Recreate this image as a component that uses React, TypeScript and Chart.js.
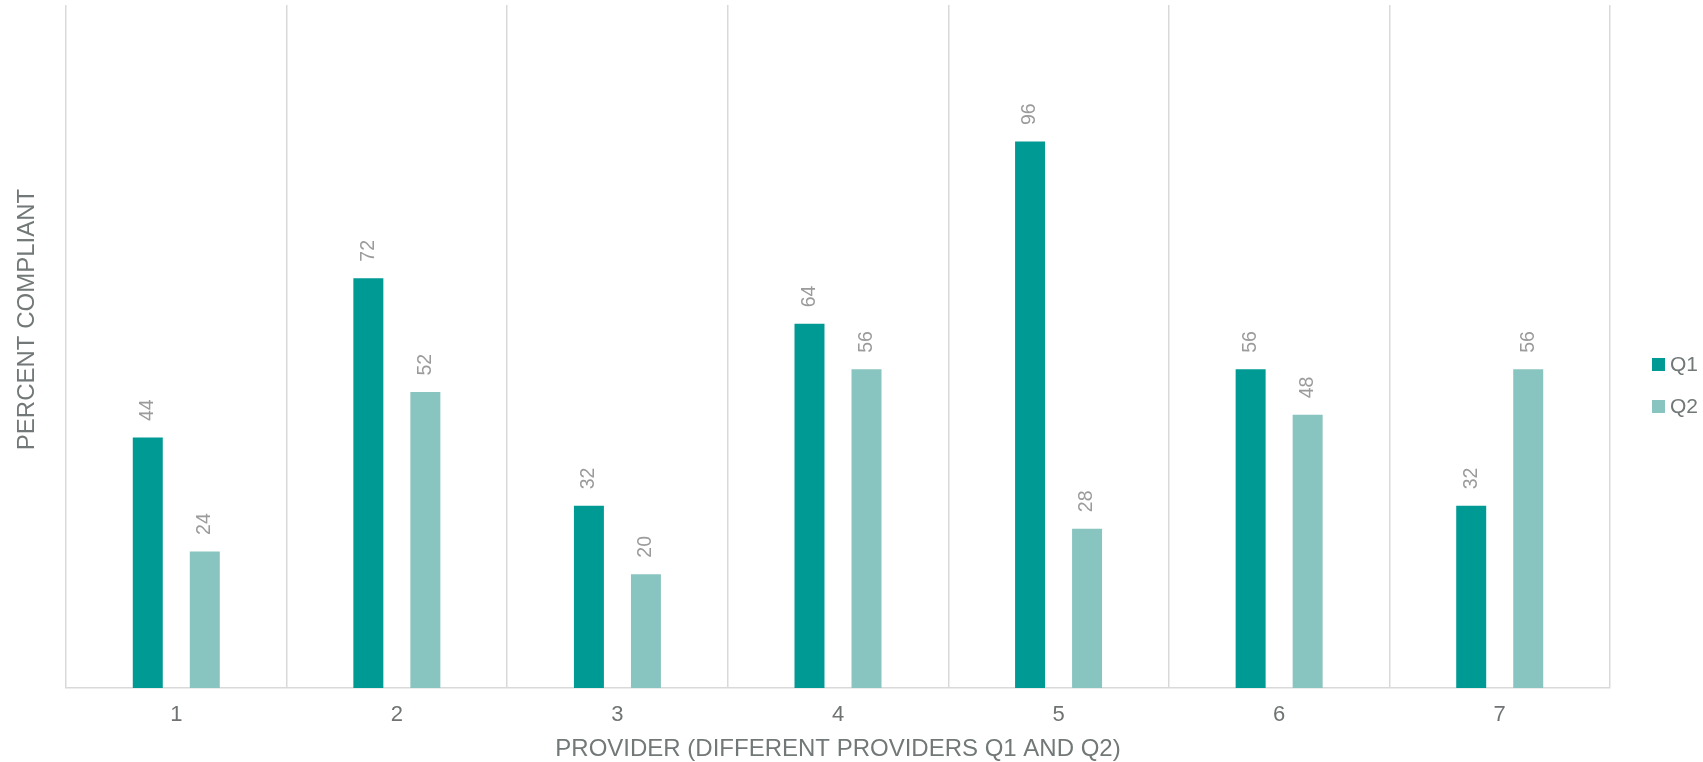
import React, { useEffect, useRef } from "react";
import { Chart, registerables } from "chart.js";

Chart.register(...registerables);

const categories = ["1", "2", "3", "4", "5", "6", "7"];
const seriesNames = ["Q1", "Q2"];
const q1Values = [44, 72, 32, 64, 96, 56, 32];
const q2Values = [24, 52, 20, 56, 28, 48, 56];
const seriesColors = ["#009A94", "#88C4C0"];
const yMax = 120;
const xTitle = "PROVIDER (DIFFERENT PROVIDERS Q1 AND Q2)";
const yTitle = "PERCENT COMPLIANT";

const FONT = "'Liberation Sans', Arial, sans-serif";

const valueLabelPlugin = {
  id: "valueLabels",
  afterDatasetsDraw(chart: any) {
    const ctx = chart.ctx;
    ctx.save();
    ctx.font = `19.5px ${FONT}`;
    ctx.fillStyle = "#9b9b9b";
    ctx.textAlign = "left";
    ctx.textBaseline = "middle";
    chart.data.datasets.forEach((ds: any, di: number) => {
      const meta = chart.getDatasetMeta(di);
      meta.data.forEach((el: any, i: number) => {
        const v = ds.data[i];
        ctx.save();
        ctx.translate(el.x, el.y - 16.5);
        ctx.rotate(-Math.PI / 2);
        ctx.fillText(String(v), 0, 0);
        ctx.restore();
      });
    });
    ctx.restore();
  },
};

const yTitlePlugin = {
  id: "yTitle",
  afterDraw(chart: any) {
    const ctx = chart.ctx;
    const area = chart.chartArea;
    const cy = (area.top + area.bottom) / 2 - 27;
    ctx.save();
    ctx.font = `24px ${FONT}`;
    ctx.fillStyle = "#727878";
    ctx.textAlign = "center";
    ctx.textBaseline = "middle";
    ctx.translate(27, cy);
    ctx.rotate(-Math.PI / 2);
    ctx.fillText(yTitle, 0, 0);
    ctx.restore();
  },
};

const customLegendPlugin = {
  id: "customLegend",
  afterDraw(chart: any) {
    const ctx = chart.ctx;
    const area = chart.chartArea;
    const x = area.right + 42;
    const spacing = 42;
    const n = chart.data.datasets.length;
    const cy = chart.height / 2 + 4.5;
    ctx.save();
    ctx.font = `21px ${FONT}`;
    ctx.textAlign = "left";
    ctx.textBaseline = "middle";
    chart.data.datasets.forEach((ds: any, i: number) => {
      const y = cy + (i - (n - 1) / 2) * spacing;
      ctx.fillStyle = ds.backgroundColor;
      ctx.fillRect(x, y - 6.5, 13, 13);
      ctx.fillStyle = "#727878";
      ctx.fillText(ds.label, x + 18, y + 1);
    });
    ctx.restore();
  },
};

export default function App() {
  const canvasRef = useRef<HTMLCanvasElement | null>(null);

  useEffect(() => {
    document.body.style.margin = "0";
    const canvas = canvasRef.current;
    if (!canvas) return;
    const chart = new Chart(canvas, {
      type: "bar",
      data: {
        labels: categories,
        datasets: [
          {
            label: seriesNames[0],
            data: q1Values,
            backgroundColor: seriesColors[0],
            categoryPercentage: 0.517,
            barPercentage: 0.526,
          },
          {
            label: seriesNames[1],
            data: q2Values,
            backgroundColor: seriesColors[1],
            categoryPercentage: 0.517,
            barPercentage: 0.526,
          },
        ],
      },
      options: {
        animation: false,
        responsive: true,
        maintainAspectRatio: false,
        font: { family: FONT },
        layout: { padding: { top: 5, left: 66, right: 93, bottom: 0 } },
        plugins: {
          legend: { display: false },
          tooltip: { enabled: false },
        },
        scales: {
          x: {
            grid: {
              display: true,
              offset: true,
              color: "#d9d9d9",
              lineWidth: 1.5,
              drawTicks: false,
            },
            border: { display: true, color: "#d9d9d9", width: 1.5 },
            ticks: {
              color: "#6f7373",
              font: { family: FONT, size: 22, lineHeight: 1 },
              padding: 15.5,
            },
            title: {
              display: true,
              text: xTitle,
              color: "#727878",
              font: { family: FONT, size: 24, lineHeight: 0.7083 },
              padding: { top: 0, bottom: 4 },
            },
          },
          y: {
            display: false,
            min: 0,
            max: yMax,
          },
        },
      },
      plugins: [valueLabelPlugin, yTitlePlugin, customLegendPlugin],
    });
    return () => chart.destroy();
  }, []);

  return (
    <div style={{ position: "relative", width: "1703px", height: "762px" }}>
      <canvas ref={canvasRef} />
    </div>
  );
}
